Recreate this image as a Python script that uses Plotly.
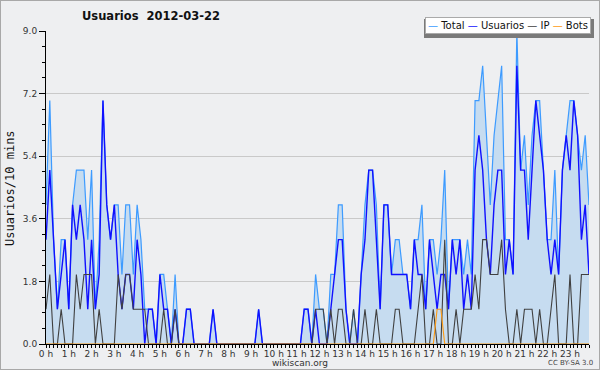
import numpy as np
import plotly.graph_objects as go

# values per 10-minute slot (144 slots, 00:00 .. 23:50)
total = [4,7,3,1,3,3,1,4,5,5,5,3,5,1,3,7,4,3,4,4,2,4,4,2,4,3,1,1,1,0,
         2,2,1,0,2,0,0,1,1,0,0,0,0,0,1,0,0,0,0,0,0,0,0,0,0,0,1,0,0,0,
         0,0,0,0,0,0,0,0,1,1,0,2,1,1,0,2,2,4,4,1,0,1,0,2,4,5,5,4,1,4,
         4,2,3,3,2,2,1,3,3,4,1,3,3,2,3,5,1,3,3,3,2,3,2,7,7,8,6,4,6,7,
         8,3,3,2,9,5,6,4,6,7,7,5,3,3,5,2,5,6,7,7,6,5,6,4]
usuarios = [3,5,3,1,2,3,1,4,3,4,3,1,3,1,2,7,4,3,4,2,1,2,2,1,3,2,0,1,1,0,
            2,1,1,0,1,0,0,1,1,0,0,0,0,0,1,0,0,0,0,0,0,0,0,0,0,0,1,0,0,0,
            0,0,0,0,0,0,0,0,1,1,0,1,0,0,0,1,2,3,3,1,0,0,0,2,3,5,5,3,1,4,
            4,2,2,2,2,2,1,3,2,2,1,3,2,1,2,2,1,3,2,3,1,2,1,5,6,5,3,2,4,5,
            5,2,3,2,8,5,5,3,5,7,6,5,3,2,3,2,5,6,5,7,6,3,4,2]
ip = [1,2,0,0,1,0,0,0,2,1,2,2,2,0,1,0,0,0,0,2,1,2,2,1,1,1,1,0,0,0,
      0,1,0,0,1,0,0,0,0,0,0,0,0,0,0,0,0,0,0,0,0,0,0,0,0,0,0,0,0,0,
      0,0,0,0,0,0,0,0,0,0,0,1,1,1,0,1,0,1,1,0,0,1,0,0,1,0,0,1,0,0,
      0,0,1,1,0,0,0,0,1,2,0,0,1,0,0,3,0,0,1,0,1,1,1,2,1,3,3,2,2,2,
      3,1,0,0,1,0,1,1,1,0,1,0,0,1,2,0,0,0,2,0,0,2,2,2]
bots = [0]*103 + [1,1] + [0]*39

hour_labels = [f"{h} h" for h in range(24)]
y_ticks = [0, 1.8, 3.6, 5.4, 7.2, 9.0]
y_labels = ["0.0", "1.8", "3.6", "5.4", "7.2", "9.0"]

x = np.arange(len(total)) / 6.0

BG = "#eeeff1"
FONT = "DejaVu Sans"
L, R, T, B = 46, 589, 31, 344
PW, PH = R - L, B - T

def px(xp):
    return (xp - L) / PW

def py(yp):
    return (B - yp) / PH

fig = go.Figure()
fig.add_trace(go.Scatter(x=x, y=total, mode="lines", name="Total",
                         line=dict(color="#3d9bff", width=1.2),
                         fill="tozeroy", fillcolor="#c6dcf0"))
fig.add_trace(go.Scatter(x=x, y=usuarios, mode="lines", name="Usuarios",
                         line=dict(color="#1010ff", width=1.4)))
fig.add_trace(go.Scatter(x=x, y=ip, mode="lines", name="IP",
                         line=dict(color="#404040", width=1.1)))
fig.add_trace(go.Scatter(x=x, y=bots, mode="lines", name="Bots",
                         line=dict(color="#ff9a10", width=1.1)))

fig.update_layout(
    width=600, height=370,
    margin=dict(l=L, r=600 - R, t=T, b=370 - B, autoexpand=False),
    paper_bgcolor=BG, plot_bgcolor=BG,
    showlegend=False,
    font=dict(family=FONT, size=9, color="#222"),
)
fig.update_xaxes(range=[0, 143/6], tickvals=list(range(24)), ticktext=hour_labels,
                 automargin=False, ticklabelstandoff=-2,
                 showgrid=False, zeroline=False, showline=True, linecolor="black",
                 linewidth=1, ticks="outside", ticklen=3, tickcolor="black",
                 tickfont=dict(size=9, color="#333"),
                 minor=dict(dtick=1/6, tick0=0, ticklen=3, tickcolor="black", ticks="outside"))
fig.update_yaxes(range=[0, 9], tickvals=y_ticks, ticktext=y_labels,
                 automargin=False,
                 showgrid=True, gridcolor="#c9c9c9", gridwidth=1, zeroline=False,
                 showline=True, linecolor="black", linewidth=1,
                 ticks="outside", ticklen=6, tickcolor="black",
                 tickfont=dict(size=9, color="#333"),
                 minor=dict(dtick=0.45, tick0=0, ticklen=3, tickcolor="black", ticks="outside",
                            showgrid=False))

# y-axis title
fig.add_annotation(text="Usuarios/10 mins", xref="paper", yref="paper",
                   x=px(10), y=py(188), xanchor="center", yanchor="middle", textangle=-90,
                   showarrow=False, font=dict(size=12, color="#111", family="DejaVu Sans Mono"))
# title
fig.add_annotation(text="<b>Usuarios  2012-03-22</b>", xref="paper", yref="paper",
                   x=px(151), y=py(16), xanchor="center", yanchor="middle",
                   showarrow=False, font=dict(size=11.5, color="#111", family=FONT))
# legend (compact, line samples as coloured dashes)
legend_txt = ('<span style="color:#3d9bff">—</span> Total '
              '<span style="color:#1010ff">—</span> Usuarios '
              '<span style="color:#404040">—</span> IP '
              '<span style="color:#ff9a10">—</span> Bots')
fig.add_shape(type="rect", xref="paper", yref="paper",
              x0=px(424), x1=px(594), y0=py(38), y1=py(19),
              fillcolor="#7a7a7a", line=dict(width=0), layer="above")
fig.add_annotation(text=legend_txt, xref="paper", yref="paper",
                   x=px(591), y=py(26), xanchor="right", yanchor="middle",
                   showarrow=False, bgcolor="white", bordercolor="#aaaaaa", borderwidth=1,
                   borderpad=2, font=dict(size=10, color="#111", family=FONT))
# footer texts
fig.add_annotation(text="wikiscan.org", xref="paper", yref="paper",
                   x=px(300), y=py(362.5), xanchor="center", yanchor="middle",
                   showarrow=False, font=dict(size=9, color="#333", family=FONT))
fig.add_annotation(text="CC BY-SA 3.0", xref="paper", yref="paper",
                   x=px(595), y=py(363), xanchor="right", yanchor="middle",
                   showarrow=False, font=dict(size=7, color="#444", family=FONT))
# outer frame
fig.add_shape(type="rect", xref="paper", yref="paper",
              x0=px(0), x1=px(600), y0=py(370), y1=py(0),
              line=dict(color="#a8a8a8", width=2), fillcolor="rgba(0,0,0,0)")

fig.write_html("out.html", config={"displayModeBar": False},
               post_script="document.body.style.margin='0';document.body.style.overflow='hidden';")
